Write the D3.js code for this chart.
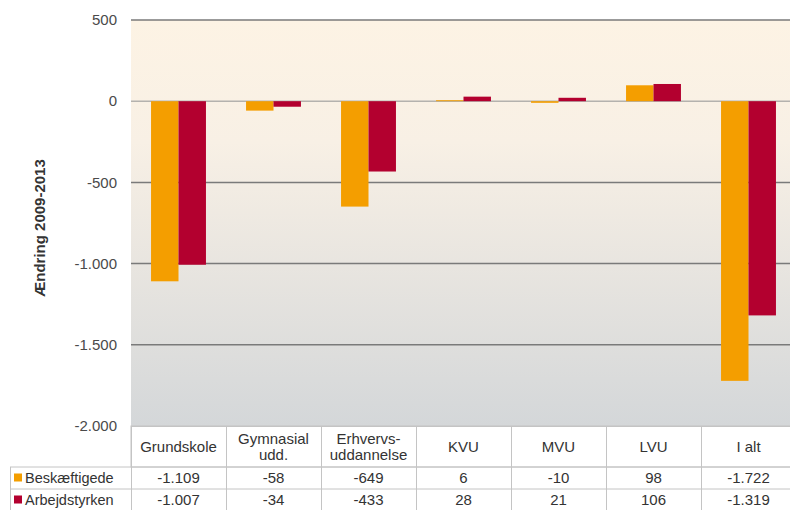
<!DOCTYPE html>
<html>
<head>
<meta charset="utf-8">
<script src="https://cdn.jsdelivr.net/npm/d3@7"></script>
<style>
  body { margin: 0; background: #fff; }
  svg { display: block; font-family: 'Liberation Sans', Arial, sans-serif; }
</style>
</head>
<body>
<svg id="chart" width="790" height="510"></svg>
<script>
// chart values
const categories = ['Grundskole', 'Gymnasial\nudd.', 'Erhvervs-\nuddannelse', 'KVU', 'MVU', 'LVU', 'I alt']
const seriesNames = ['Beskæftigede', 'Arbejdstyrken']
const beskaeftigede = [-1109, -58, -649, 6, -10, 98, -1722]
const arbejdstyrken = [-1007, -34, -433, 28, 21, 106, -1319]
const yTicks = [500, 0, -500, -1000, -1500, -2000]
const colors = ['#f49e00', '#b3002f']

// plot box
const LEFT = 131
const RIGHT = 796
const TOP = 20
const BOTTOM = 426
// table rows
const HEAD_BOTTOM = 467
const ROW_H = 22

const svg = d3.select('#chart')

// danish number format: -1.000 (plain hyphen as minus)
const locale = d3.formatLocale({ decimal: ',', thousands: '.', grouping: [3], currency: ['', ' kr.'], minus: '-' })
const fmt = locale.format(',d')

const x = d3.scaleBand()
  .domain(categories)
  .range([LEFT, RIGHT])

const xSub = d3.scaleBand()
  .domain(seriesNames)
  .range([0, x.bandwidth()])
  .paddingOuter(0.73)

const y = d3.scaleLinear()
  .domain([-2000, 500])
  .range([BOTTOM, TOP])

// background gradient of the plot area
const grad = svg.append('defs').append('linearGradient')
  .attr('id', 'bg')
  .attr('x1', 0).attr('y1', 0).attr('x2', 0).attr('y2', 1)
grad.append('stop').attr('offset', '0%').attr('stop-color', '#fdf3e4')
grad.append('stop').attr('offset', '30%').attr('stop-color', '#f8f0e5')
grad.append('stop').attr('offset', '100%').attr('stop-color', '#d4d7d9')

svg.append('rect')
  .attr('x', LEFT)
  .attr('y', TOP)
  .attr('width', RIGHT - LEFT)
  .attr('height', BOTTOM - TOP)
  .attr('fill', 'url(#bg)')

// gridlines + tick labels
svg.append('g')
  .selectAll('line')
  .data(yTicks.filter((d) => d !== -2000))
  .join('line')
  .attr('x1', LEFT)
  .attr('x2', RIGHT)
  .attr('y1', (d) => y(d))
  .attr('y2', (d) => y(d))
  .attr('stroke', (d) => (d === 0 ? '#b4b2ae' : '#7a7a7a'))
  .attr('stroke-width', 1.5)

svg.append('g')
  .selectAll('text')
  .data(yTicks)
  .join('text')
  .attr('x', 117)
  .attr('y', (d) => y(d))
  .attr('dy', '0.35em')
  .attr('text-anchor', 'end')
  .attr('font-size', 15)
  .attr('fill', '#4a4a4a')
  .text((d) => fmt(d))

// axis title
svg.append('text')
  .attr('transform', `translate(45, ${228}) rotate(-90)`)
  .attr('text-anchor', 'middle')
  .attr('font-size', 15)
  .attr('font-weight', 'bold')
  .attr('fill', '#333')
  .text('Ændring 2009-2013')

// bars
const series = [beskaeftigede, arbejdstyrken]
svg.append('g')
  .selectAll('g')
  .data(series)
  .join('g')
  .attr('fill', (d, i) => colors[i])
  .each(function (values, si) {
    d3.select(this)
      .selectAll('rect')
      .data(values)
      .join('rect')
      .attr('x', (d, i) => x(categories[i]) + xSub(seriesNames[si]))
      .attr('width', xSub.bandwidth())
      .attr('y', (d) => y(Math.max(0, d)))
      .attr('height', (d) => Math.abs(y(d) - y(0)))
  })

// data table
const table = svg.append('g')
  .attr('stroke', '#c4c4c4')
  .attr('stroke-width', 1)

table.append('rect')
  .attr('x', LEFT)
  .attr('y', BOTTOM)
  .attr('width', RIGHT - LEFT)
  .attr('height', HEAD_BOTTOM - BOTTOM)
  .attr('fill', '#fff')

const hLines = [BOTTOM + 0.5, HEAD_BOTTOM, HEAD_BOTTOM + ROW_H, HEAD_BOTTOM + ROW_H * 2]
table.selectAll('.h')
  .data(hLines)
  .join('line')
  .attr('class', 'h')
  .attr('x1', (d, i) => (i === 0 ? LEFT : 10))
  .attr('x2', RIGHT)
  .attr('y1', (d) => d)
  .attr('y2', (d) => d)

table.selectAll('.v')
  .data(categories)
  .join('line')
  .attr('class', 'v')
  .attr('x1', (d) => x(d) + 0.5)
  .attr('x2', (d) => x(d) + 0.5)
  .attr('y1', BOTTOM)
  .attr('y2', 510)

table.append('line')
  .attr('x1', 10.5).attr('x2', 10.5)
  .attr('y1', HEAD_BOTTOM).attr('y2', 510)

// header labels
svg.append('g')
  .selectAll('text')
  .data(categories)
  .join('text')
  .attr('text-anchor', 'middle')
  .attr('font-size', 15)
  .attr('fill', '#333')
  .each(function (d) {
    const lines = d.split('\n')
    const cx = x(d) + x.bandwidth() / 2
    const mid = (BOTTOM + HEAD_BOTTOM) / 2
    d3.select(this)
      .selectAll('tspan')
      .data(lines)
      .join('tspan')
      .attr('x', cx)
      .attr('y', (l, i) => mid + (i - (lines.length - 1) / 2) * 16)
      .attr('dy', '0.35em')
      .text((l) => l)
  })

// value rows + legend keys
series.forEach((values, si) => {
  const cy = HEAD_BOTTOM + ROW_H * si + ROW_H / 2
  const row = svg.append('g')
    .attr('font-size', 15)
    .attr('fill', '#333')

  row.selectAll('text')
    .data(values)
    .join('text')
    .attr('x', (d, i) => x(categories[i]) + x.bandwidth() / 2)
    .attr('y', cy)
    .attr('dy', '0.35em')
    .attr('text-anchor', 'middle')
    .text((d) => fmt(d))

  row.append('rect')
    .attr('x', 14)
    .attr('y', cy - 4.5)
    .attr('width', 8)
    .attr('height', 8)
    .attr('fill', colors[si])

  row.append('text')
    .attr('x', 25)
    .attr('y', cy)
    .attr('dy', '0.35em')
    .attr('font-size', 14.5)
    .text(seriesNames[si])
})
</script>
</body>
</html>
